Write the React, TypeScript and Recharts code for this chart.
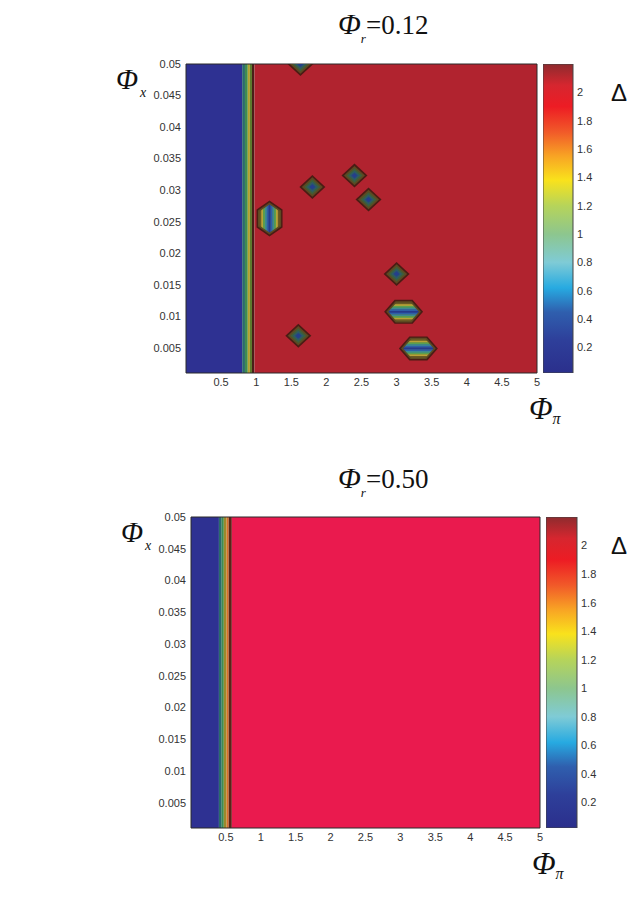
import React from 'react'
import { ComposedChart, BarChart, Bar, XAxis, YAxis, ReferenceArea, Scatter } from 'recharts'

const PI_TICKS = [0.5, 1, 1.5, 2, 2.5, 3, 3.5, 4, 4.5, 5]
const X_TICKS = [0.005, 0.01, 0.015, 0.02, 0.025, 0.03, 0.035, 0.04, 0.045, 0.05]
const DELTA_TICKS = [0.2, 0.4, 0.6, 0.8, 1, 1.2, 1.4, 1.6, 1.8, 2]
const PI_DOMAIN = [0, 5]
const X_DOMAIN = [0.001, 0.05]
const DELTA_DOMAIN = [0.02, 2.2]
const colorbarData = [{ name: 'Δ', range: DELTA_DOMAIN }]

// contour bands along phi_pi (left blue region, thin transition strips, then the big plateau)
const bandsR012 = [
  { from: 0, to: 0.8, color: '#2e3192' },
  { from: 0.8, to: 0.84, color: '#2a6a6c' },
  { from: 0.84, to: 0.88, color: '#3e8c50' },
  { from: 0.88, to: 0.91, color: '#b3a22e' },
  { from: 0.91, to: 0.94, color: '#5d7a2c' },
  { from: 0.94, to: 0.975, color: '#4a1e18' },
  { from: 0.975, to: 5, color: '#b1232f' },
]

const bandsR050 = [
  { from: 0, to: 0.4, color: '#2e3192' },
  { from: 0.4, to: 0.44, color: '#2a6a6c' },
  { from: 0.44, to: 0.47, color: '#3e8c50' },
  { from: 0.47, to: 0.51, color: '#9a8a2c' },
  { from: 0.51, to: 0.54, color: '#d8702a' },
  { from: 0.54, to: 0.585, color: '#5a2418' },
  { from: 0.585, to: 5, color: '#ea1a4e' },
]

// small low-Delta islands inside the r=0.12 plateau
const islandsR012 = [
  { id: 1, x: 1.63, y: 0.05, kind: 'diamond' },
  { id: 2, x: 1.8, y: 0.0305, kind: 'diamond' },
  { id: 3, x: 2.4, y: 0.0323, kind: 'diamond' },
  { id: 4, x: 2.6, y: 0.0285, kind: 'diamond' },
  { id: 5, x: 1.19, y: 0.0255, kind: 'tallHex' },
  { id: 6, x: 3.0, y: 0.0167, kind: 'diamond' },
  { id: 7, x: 3.1, y: 0.0107, kind: 'wideHex' },
  { id: 8, x: 1.6, y: 0.0069, kind: 'diamond' },
  { id: 9, x: 3.31, y: 0.0049, kind: 'wideHex' },
]

const colorStops = [
  { v: 0.02, c: '#2b2f8c' },
  { v: 0.25, c: '#2e3f9a' },
  { v: 0.45, c: '#2f5fae' },
  { v: 0.62, c: '#27aae1' },
  { v: 0.8, c: '#7fcbd6' },
  { v: 1.0, c: '#8dc68e' },
  { v: 1.2, c: '#b6d45a' },
  { v: 1.38, c: '#f9e21c' },
  { v: 1.55, c: '#f8a424' },
  { v: 1.72, c: '#f15a29' },
  { v: 1.9, c: '#ed1c24' },
  { v: 2.05, c: '#d6262f' },
  { v: 2.2, c: '#8e2b2e' },
]

const FONT = '"Liberation Sans", Arial, sans-serif'
const SERIF = '"Liberation Serif", "Times New Roman", serif'
const tick = { fontSize: 11, fill: '#333', fontFamily: FONT }

const SHAPES: Record<string, number[][]> = {
  diamond: [[0, -12], [13, 0], [0, 12], [-13, 0]],
  tallHex: [[0, -18], [13, -9], [13, 9], [0, 18], [-13, 9], [-13, -9]],
  wideHex: [[-19.5, 0], [-9, -12], [9, -12], [19.5, 0], [9, 12], [-9, 12]],
}
const RINGS = ['#4a1c14', '#5c4a22', '#3e5e3a', '#2c5a66', '#253f8a']
const STRIPES = ['#6b5a24', '#b8a236', '#5aa04e', '#3d8a90', '#2f5fa8', '#263a8c', '#2f5fa8', '#3d8a90', '#5aa04e', '#b8a236', '#6b5a24']

const pts = (shape: number[][], cx: number, cy: number, s: number) =>
  shape.map(([a, b]) => `${cx + a * s},${cy + b * s}`).join(' ')

function Island(props: any) {
  const { cx, cy, payload } = props
  const shape = SHAPES[payload.kind]
  if (payload.kind === 'diamond') {
    return (
      <g>
        {RINGS.map((c, i) => (
          <polygon key={i} points={pts(shape, cx, cy, 1 - i * 0.19)} fill={c} />
        ))}
      </g>
    )
  }
  const clipId = `island-clip-${payload.id}`
  const vertical = payload.kind === 'tallHex'
  const half = vertical ? 13 * 0.78 : 12 * 0.78
  const step = (half * 2) / STRIPES.length
  return (
    <g>
      <defs>
        <clipPath id={clipId}>
          <polygon points={pts(shape, cx, cy, 0.78)} />
        </clipPath>
      </defs>
      <polygon points={pts(shape, cx, cy, 1)} fill={RINGS[0]} />
      <polygon points={pts(shape, cx, cy, 0.89)} fill={RINGS[1]} />
      <g clipPath={`url(#${clipId})`}>
        {STRIPES.map((c, i) =>
          vertical ? (
            <rect key={i} x={cx - half + i * step} y={cy - 20} width={step + 0.3} height={40} fill={c} />
          ) : (
            <rect key={i} x={cx - 22} y={cy - half + i * step} width={44} height={step + 0.3} fill={c} />
          )
        )}
      </g>
    </g>
  )
}

type PanelProps = {
  top: number
  plotLeft: number
  plotRight: number
  plotTop: number
  plotBottom: number
  cbLeft: number
  cbRight: number
  bands: { from: number; to: number; color: string }[]
  islands: typeof islandsR012
  title: string
}

function Panel(p: PanelProps) {
  const h = p.plotBottom + 34
  return (
    <>
      <div style={{ position: 'absolute', left: 0, top: p.top }}>
        <ComposedChart
          width={641}
          height={h}
          margin={{ top: p.plotTop, right: 641 - p.plotRight, bottom: 4, left: 0 }}
        >
          <XAxis
            type="number"
            dataKey="x"
            domain={PI_DOMAIN}
            ticks={PI_TICKS}
            tick={tick}
            tickLine={false}
            axisLine={false}
            tickSize={0}
            tickMargin={5}
            height={30}
            allowDataOverflow
          />
          <YAxis
            type="number"
            dataKey="y"
            domain={X_DOMAIN}
            ticks={X_TICKS}
            tick={tick}
            tickLine={false}
            axisLine={false}
            tickSize={0}
            tickMargin={5}
            width={p.plotLeft}
            allowDataOverflow
          />
          {p.bands.map((b, i) => (
            <ReferenceArea key={i} x1={b.from} x2={b.to} fill={b.color} fillOpacity={1} stroke="none" />
          ))}
          <Scatter data={p.islands} shape={(s: any) => <Island {...s} />} isAnimationActive={false} />
          <ReferenceArea x1={0} x2={5} y1={0.001} y2={0.05} fill="none" stroke="#2a2a2a" strokeWidth={1} />
        </ComposedChart>
      </div>
      <div style={{ position: 'absolute', left: p.cbLeft, top: p.top }}>
        <BarChart
          width={p.cbRight - p.cbLeft + 40}
          height={h}
          data={colorbarData}
          barCategoryGap={0}
          margin={{ top: p.plotTop, right: 0, bottom: h - p.plotBottom, left: 0 }}
        >
          <XAxis type="category" dataKey="name" hide />
          <YAxis
            type="number"
            orientation="right"
            domain={DELTA_DOMAIN}
            ticks={DELTA_TICKS}
            tick={tick}
            tickLine={false}
            axisLine={false}
            tickSize={0}
            tickMargin={4}
            width={40}
            allowDataOverflow
          />
          <Bar dataKey="range" fill="url(#deltaScale)" stroke="#444" strokeWidth={1} isAnimationActive={false} />
        </BarChart>
      </div>
      <div style={{ position: 'absolute', left: 338, top: p.top + 7, fontFamily: SERIF, color: '#111', whiteSpace: 'nowrap' }}>
        <span style={{ fontStyle: 'italic', fontSize: 30 }}>Φ</span>
        <span style={{ fontStyle: 'italic', fontSize: 13, position: 'relative', top: 9 }}>r</span>
        <span style={{ fontSize: 27 }}>=0.</span>
        <span style={{ fontSize: 27 }}>{p.title.slice(2)}</span>
      </div>
      <div style={{ position: 'absolute', left: p.plotLeft - 70, top: p.top + p.plotTop - 1, fontFamily: SERIF, color: '#111', whiteSpace: 'nowrap' }}>
        <span style={{ fontStyle: 'italic', fontSize: 29 }}>Φ</span>
        <span style={{ fontStyle: 'italic', fontSize: 14, position: 'relative', top: 8, left: 2 }}>x</span>
      </div>
      <div style={{ position: 'absolute', left: p.plotRight - 8, top: p.top + p.plotBottom + 18, fontFamily: SERIF, color: '#111', whiteSpace: 'nowrap' }}>
        <span style={{ fontStyle: 'italic', fontSize: 31 }}>Φ</span>
        <span style={{ fontStyle: 'italic', fontSize: 16, position: 'relative', top: 5, left: 0 }}>π</span>
      </div>
      <div style={{ position: 'absolute', left: 611, top: p.top + p.plotTop + 15, fontFamily: FONT, fontSize: 24, color: '#111' }}>Δ</div>
    </>
  )
}

export default function App() {
  const span = DELTA_DOMAIN[1] - DELTA_DOMAIN[0]
  return (
    <div style={{ position: 'absolute', left: 0, top: 0, width: 641, height: 908, background: '#fff' }}>
      <svg width={0} height={0} style={{ position: 'absolute' }}>
        <defs>
          <linearGradient id="deltaScale" x1="0" y1="1" x2="0" y2="0">
            {colorStops.map((s, i) => (
              <stop key={i} offset={(s.v - DELTA_DOMAIN[0]) / span} stopColor={s.c} />
            ))}
          </linearGradient>
        </defs>
      </svg>
      <Panel
        top={0}
        plotLeft={186}
        plotRight={537}
        plotTop={64}
        plotBottom={373}
        cbLeft={543}
        cbRight={573}
        bands={bandsR012}
        islands={islandsR012}
        title="0.12"
      />
      <Panel
        top={454}
        plotLeft={191}
        plotRight={540}
        plotTop={63}
        plotBottom={374}
        cbLeft={546}
        cbRight={577}
        bands={bandsR050}
        islands={[]}
        title="0.50"
      />
    </div>
  )
}
